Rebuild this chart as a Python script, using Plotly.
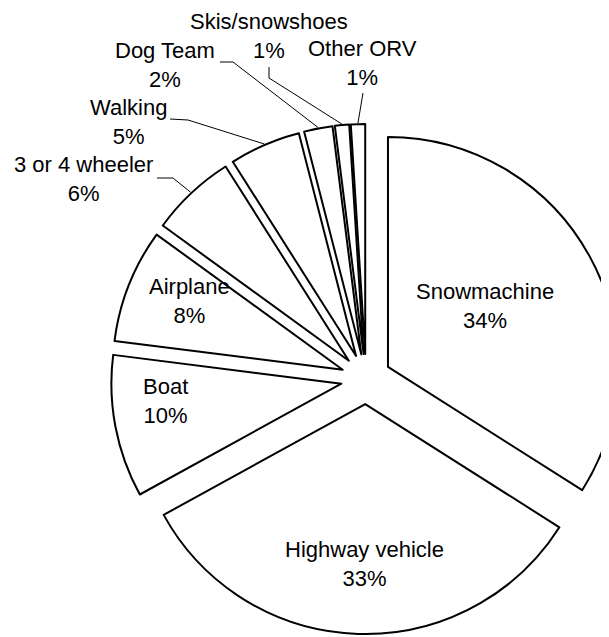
import math
import plotly.graph_objects as go

# ---- data ----
labels = ["Snowmachine", "Highway vehicle", "Boat", "Airplane", "3 or 4 wheeler",
          "Walking", "Dog Team", "Skis/snowshoes", "Other ORV"]
values = [34, 33, 10, 8, 6, 5, 2, 1, 1]
inside = [True, True, True, True, False, False, False, False, False]

# ---- layout geometry (page pixels) ----
OFF = 8                     # body margin of the html page
W, H = 620, 637
CX, CY = 366, 379           # pie centre on the page
R = 230                     # slice radius
PULL = 0.109                # explode fraction

half = R * (1 + PULL)
fcx, fcy = CX - OFF, CY - OFF
dom_x = [(fcx - min(fcx, W - fcx)) / W, (fcx + min(fcx, W - fcx)) / W]
dom_y = [1 - (fcy + half) / H, 1 - (fcy - half) / H]


def px(x):
    return (x - OFF) / W


def py(y):
    return 1 - (y - OFF) / H


fig = go.Figure(go.Pie(
    labels=labels, values=values, sort=False, direction="clockwise", rotation=0,
    pull=[PULL] * len(values), textinfo="none", hoverinfo="label+percent",
    marker=dict(colors=["white"] * len(values), line=dict(color="black", width=2)),
    domain=dict(x=dom_x, y=dom_y), showlegend=False,
))

# mid angles from the data
tot = sum(values)
mids = []
acc = 0
for v in values:
    mids.append((acc + v / 2) / tot * 360)
    acc += v


def arc_point(i, extra=0):
    a = math.radians(mids[i])
    dx, dy = math.sin(a), -math.cos(a)
    d = R * PULL + R + extra
    return CX + d * dx, CY + d * dy


# label placement (page px, centre of text block)
label_pos = {
    "Snowmachine": (485, 306),
    "Highway vehicle": (364, 564),
    "Boat": (165, 401),
    "Airplane": (189, 301),
    "3 or 4 wheeler": (83, 179),
    "Walking": (128, 122),
    "Dog Team": (165, 65),
    "Skis/snowshoes": (269, 36),
    "Other ORV": (362, 63),
}
# leader start and elbow (page px)
leaders = {
    "3 or 4 wheeler": [(157, 178), (173, 178)],
    "Walking": [(170, 119), (188, 120)],
    "Dog Team": [(220, 62), (233, 62)],
    "Skis/snowshoes": [(269, 67), (269, 78)],
    "Other ORV": [(363, 93)],
}

FONT = dict(family="Arial, Liberation Sans, sans-serif", size=22, color="black")
annotations = []
shapes = []
for i, (lab, v) in enumerate(zip(labels, values)):
    x, y = label_pos[lab]
    annotations.append(dict(
        x=px(x), y=py(y), xref="paper", yref="paper", showarrow=False,
        text=f"{lab}<br>{v}%", font=FONT, align="center",
        xanchor="center", yanchor="middle"))
    if not inside[i]:
        pts = leaders[lab] + [arc_point(i, 1)]
        path = "M " + " L ".join(f"{px(a)},{py(b)}" for a, b in pts)
        shapes.append(dict(type="path", path=path, xref="paper", yref="paper",
                           line=dict(color="black", width=1)))

fig.update_layout(
    width=W, height=H, margin=dict(l=0, r=0, t=0, b=0),
    paper_bgcolor="white", plot_bgcolor="white",
    annotations=annotations, shapes=shapes,
)

fig.write_html("out.html")
